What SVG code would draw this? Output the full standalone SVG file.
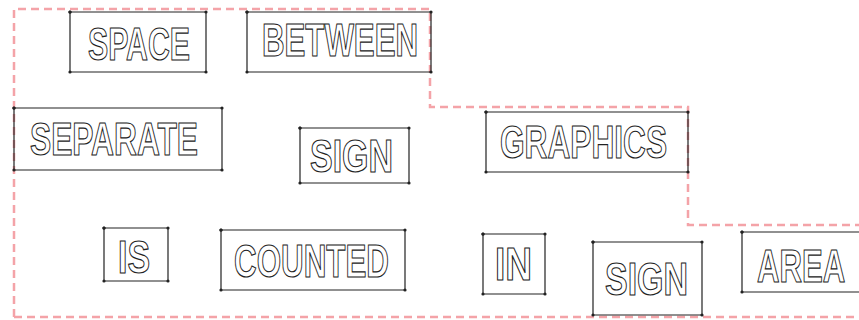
<svg xmlns="http://www.w3.org/2000/svg" width="859" height="320" viewBox="0 0 859 320">
<defs>
<style>
.bx{fill:none;stroke:#222;stroke-width:1.2;marker-start:url(#d);marker-mid:url(#d);marker-end:url(#d)}
.w{font-family:"Liberation Sans",Arial,sans-serif;font-weight:bold;font-size:46px;fill:#fff;stroke:#222;stroke-width:1.2}
.out{fill:none;stroke:#f4a3a8;stroke-width:2.5;stroke-dasharray:8 5}
</style>
<marker id="d" viewBox="0 0 4 4" refX="2" refY="2" markerWidth="4" markerHeight="4" markerUnits="userSpaceOnUse"><circle cx="2" cy="2" r="1.6" fill="#222"/></marker>
</defs>
<g id="outline"><path class="out" d="M14,317 L14,9 L430,9 L430,107 L688,107 L688,225 L859,225 M14,317 L859,317"/></g>
<g id="connectors"></g>
<g id="n-space"><path class="bx" d="M70,12 L206,12 L206,72 L70,72 Z"/><text class="w" x="88" y="60" textLength="102" lengthAdjust="spacingAndGlyphs">SPACE</text></g>
<g id="n-between"><path class="bx" d="M247,12 L431,12 L431,72 L247,72 Z"/><text class="w" x="262" y="56" textLength="156" lengthAdjust="spacingAndGlyphs">BETWEEN</text></g>
<g id="n-separate"><path class="bx" d="M14,108 L222,108 L222,170 L14,170 Z"/><text class="w" x="30" y="155" textLength="168" lengthAdjust="spacingAndGlyphs">SEPARATE</text></g>
<g id="n-sign1"><path class="bx" d="M300,128 L409,128 L409,183 L300,183 Z"/><text class="w" x="310" y="172" textLength="83" lengthAdjust="spacingAndGlyphs">SIGN</text></g>
<g id="n-graphics"><path class="bx" d="M486,112 L688,112 L688,172 L486,172 Z"/><text class="w" x="500" y="158" textLength="167" lengthAdjust="spacingAndGlyphs">GRAPHICS</text></g>
<g id="n-is"><path class="bx" d="M104,228 L168,228 L168,281 L104,281 Z"/><text class="w" x="118" y="273" textLength="32" lengthAdjust="spacingAndGlyphs">IS</text></g>
<g id="n-counted"><path class="bx" d="M221,230 L405,230 L405,290 L221,290 Z"/><text class="w" x="234" y="277" textLength="155" lengthAdjust="spacingAndGlyphs">COUNTED</text></g>
<g id="n-in"><path class="bx" d="M483,234 L545,234 L545,294 L483,294 Z"/><text class="w" x="495" y="280" textLength="37" lengthAdjust="spacingAndGlyphs">IN</text></g>
<g id="n-sign2"><path class="bx" d="M593,242 L702,242 L702,315 L593,315 Z"/><text class="w" x="605" y="295" textLength="83" lengthAdjust="spacingAndGlyphs">SIGN</text></g>
<g id="n-area"><path class="bx" d="M742,232 L862,232 L862,292 L742,292 Z"/><text class="w" transform="translate(757,282) scale(0.677,1)" x="0" y="0">AREA</text></g>
</svg>
